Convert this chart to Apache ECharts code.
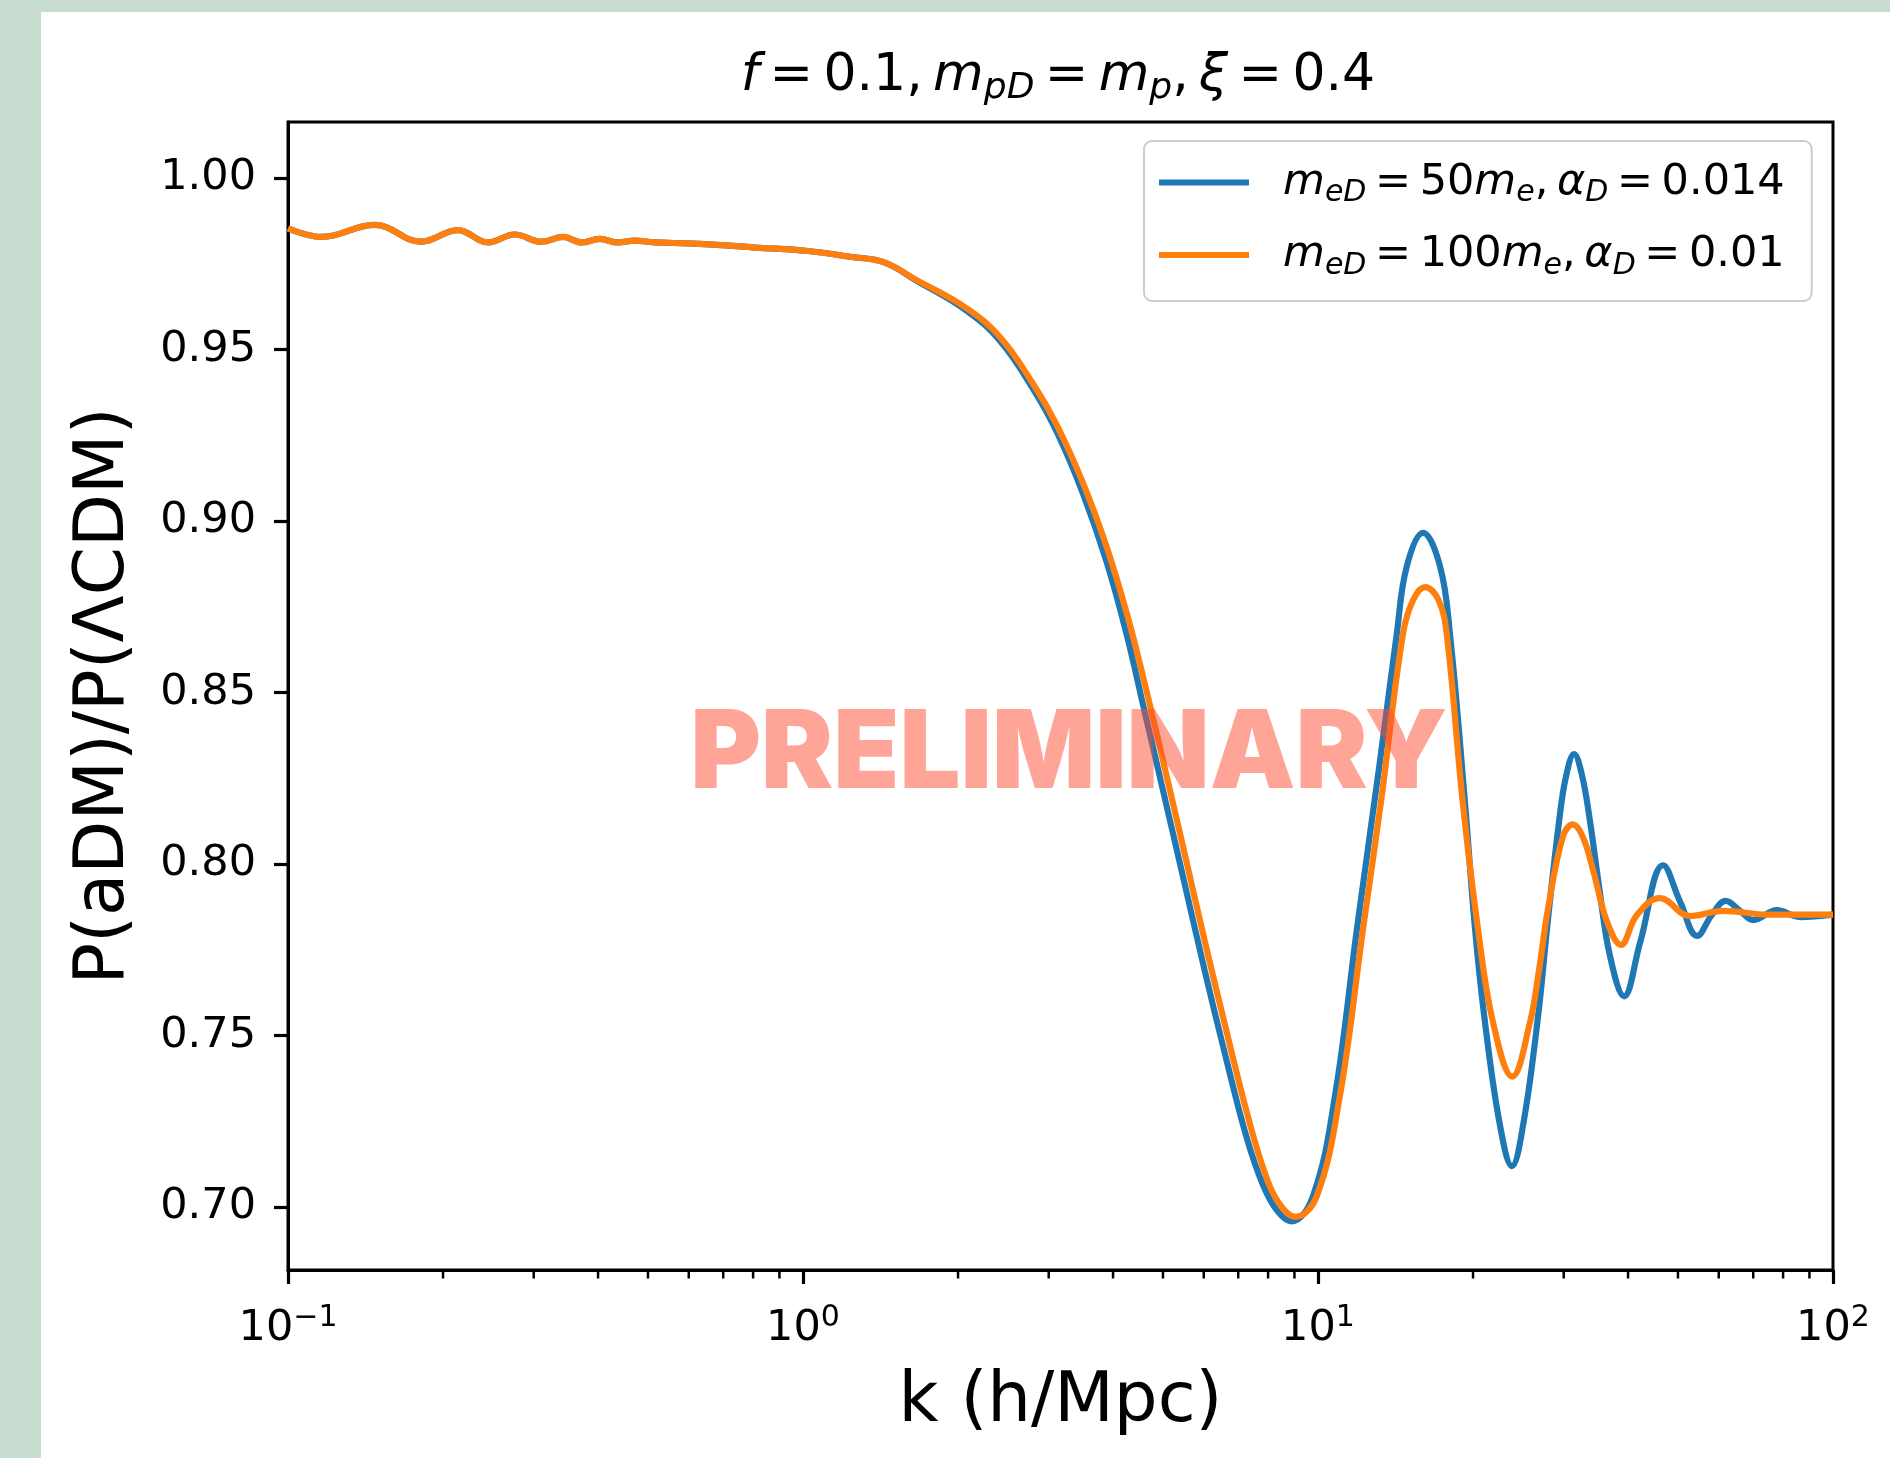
<!DOCTYPE html>
<html>
<head>
<meta charset="utf-8">
<script src="https://cdn.jsdelivr.net/npm/echarts@6/dist/echarts.min.js"></script>
<style>
html,body{margin:0;padding:0;width:1890px;height:1458px;background:#c5dccf;overflow:hidden;}
#paper{position:absolute;left:41px;top:12px;right:0;bottom:0;background:#ffffff;}
#chart{position:absolute;left:0;top:0;width:1890px;height:1458px;}
</style>
</head>
<body>
<div id="paper"></div>
<div id="chart"></div>
<script>
// ---------------- data ----------------
const kBlue = [0.1, 0.1161, 0.1474, 0.1815, 0.2138, 0.2445, 0.2755, 0.3104, 0.342, 0.3712, 0.403, 0.4373, 0.471, 0.515, 0.598, 0.694, 0.806, 1.023, 1.234, 1.43,
  1.663, 2.078, 2.412, 2.797, 3.109, 3.498, 3.889, 4.252, 4.574, 4.98, 5.47, 6.03, 6.63, 7.25, 7.82, 8.36, 8.89, 9.78, 10.79, 11.9, 13.19, 14.22, 14.87, 16.0, 17.26, 18.04,
  19.29, 20.18, 21.1, 22.58, 23.8, 25.03, 26.75, 27.97, 29.38, 30.31, 31.42, 32.56, 33.75, 35.13, 36.9, 39.3, 42.2, 46.8, 50.5, 54.5, 58.1, 61.9, 66.0, 70.0, 77.8, 86.3, 100];
const vBlue = [0.9853, 0.9828, 0.9863, 0.9814, 0.9848, 0.9812, 0.9835, 0.9814, 0.9828, 0.9812, 0.9822, 0.9812, 0.9817, 0.9812, 0.9809, 0.9804, 0.9797, 0.9787, 0.9770, 0.9755,
  0.9700, 0.9613, 0.9525, 0.9385, 0.9260, 0.9079, 0.8879, 0.8668, 0.8464, 0.8226, 0.7962, 0.7687, 0.7433, 0.7208, 0.7064, 0.6986, 0.6958, 0.7032, 0.7324, 0.7810, 0.8298, 0.8670, 0.8867, 0.8965, 0.8867, 0.8670,
  0.8180, 0.7810, 0.7538, 0.7235, 0.7119, 0.7240, 0.7556, 0.7840, 0.8123, 0.8255, 0.8320, 0.8258, 0.8123, 0.7935, 0.7731, 0.7614, 0.7770, 0.7996, 0.7889, 0.7790, 0.7850, 0.7892, 0.7863, 0.7836, 0.7865, 0.7845, 0.7852];

const kOrange = [0.1, 0.1161, 0.1474, 0.1815, 0.2138, 0.2445, 0.2755, 0.3104, 0.342, 0.3712, 0.403, 0.4373, 0.471, 0.515, 0.598, 0.694, 0.806, 1.023, 1.234, 1.43,
  1.663, 2.078, 2.412, 2.797, 3.109, 3.498, 3.889, 4.252, 4.574, 4.98, 5.47, 6.03, 6.63, 7.25, 7.82, 8.36, 9.05, 9.95, 11.03, 12.23, 13.25, 14.62, 15.31, 16.14, 17.13, 17.78,
  19.1, 20.45, 21.87, 23.84, 25.8, 26.86, 27.97, 29.9, 31.24, 32.7, 34.23, 36.4, 38.75, 41.58, 46.13, 52.77, 61.16, 75, 100];
const vOrange = [0.9853, 0.9828, 0.9863, 0.9814, 0.9848, 0.9812, 0.9835, 0.9814, 0.9828, 0.9812, 0.9822, 0.9812, 0.9817, 0.9812, 0.9809, 0.9804, 0.9797, 0.9787, 0.9770, 0.9755,
  0.9702, 0.9620, 0.9536, 0.9400, 0.9280, 0.9110, 0.8923, 0.8731, 0.8546, 0.8313, 0.8050, 0.7774, 0.7517, 0.7284, 0.7115, 0.7015, 0.6971, 0.7032, 0.7324, 0.7810, 0.8180, 0.8670, 0.8770, 0.8807, 0.8770, 0.8670,
  0.8180, 0.7810, 0.7538, 0.7380, 0.7538, 0.7690, 0.7870, 0.8080, 0.8115, 0.8078, 0.7980, 0.7832, 0.7764, 0.7850, 0.7900, 0.7848, 0.7863, 0.7852, 0.7852];

const seriesNames = ['blue: meD=50me, aD=0.014', 'orange: meD=100me, aD=0.01'];
const TS = '\u2009';
const legendLabels = [
  '{sp| }{i|m}{s|eD}{r|' + TS + '=' + TS + '50}{i|m}{s|e}{r|,' + TS + '}{i|α}{s|D}{r|' + TS + '=' + TS + '0.014}',
  '{sp| }{i|m}{s|eD}{r|' + TS + '=' + TS + '100}{i|m}{s|e}{r|,' + TS + '}{i|α}{s|D}{r|' + TS + '=' + TS + '0.01}'
];
const titleText = '{i|f}{r|' + TS + '=' + TS + '0.1,' + TS + '}{i|m}{s|pD}{r|' + TS + '=' + TS + '}{i|m}{s|p}{r|,' + TS + '}{i|ξ}{r|' + TS + '=' + TS + '0.4}';

const Y_MIN = 0.6816, Y_MAX = 1.0163;
const yTicks = [0.70, 0.75, 0.80, 0.85, 0.90, 0.95, 1.00];
const yTickLabels = ['0.70', '0.75', '0.80', '0.85', '0.90', '0.95', '1.00'];
const xMajorTicks = [0.1, 1, 10, 100];
const xTickExponents = ['\u22121', '0', '1', '2'];
const xMinorTicks = [0.2, 0.3, 0.4, 0.5, 0.6, 0.7, 0.8, 0.9, 2, 3, 4, 5, 6, 7, 8, 9, 20, 30, 40, 50, 60, 70, 80, 90];

// ---------------- chart ----------------
const FONT = 'DejaVu Sans';
const chart = echarts.init(document.getElementById('chart'), null, {renderer: 'canvas'});

function pairs(ks, vs) { return ks.map((k, i) => [k, vs[i]]); }

const option = {
  animation: false,
  backgroundColor: 'transparent',
  title: {
    text: titleText,
    left: 1053,
    top: 40,
    textAlign: 'center',
    textStyle: {
      fontWeight: 'normal',
      rich: {
        r: {fontFamily: FONT, fontSize: 52, lineHeight: 62, fontWeight: 'normal', color: '#000'},
        i: {fontFamily: FONT, fontSize: 52, lineHeight: 62, fontWeight: 'normal', fontStyle: 'italic', color: '#000'},
        s: {fontFamily: FONT, fontSize: 36, lineHeight: 36, fontWeight: 'normal', fontStyle: 'italic', verticalAlign: 'bottom', color: '#000'}
      }
    }
  },
  legend: {
    data: seriesNames,
    orient: 'vertical',
    left: 1144,
    top: 141,
    itemWidth: 90,
    itemHeight: 6,
    itemGap: 25,
    icon: 'rect',
    selectedMode: false,
    padding: [20, 27, 20, 15],
    backgroundColor: 'rgba(255,255,255,0.8)',
    borderColor: '#cccccc',
    borderWidth: 2,
    borderRadius: 8,
    formatter: name => legendLabels[seriesNames.indexOf(name)],
    textStyle: {
      color: '#000',
      rich: {
        sp: {width: 29, fontSize: 43, lineHeight: 52},
        r: {fontFamily: FONT, fontSize: 43, lineHeight: 52, color: '#000'},
        i: {fontFamily: FONT, fontSize: 43, lineHeight: 52, fontStyle: 'italic', color: '#000'},
        s: {fontFamily: FONT, fontSize: 30, lineHeight: 30, fontStyle: 'italic', verticalAlign: 'bottom', color: '#000'}
      }
    }
  },
  grid: {
    left: 288, top: 122, width: 1545, height: 1148,
    show: true, borderColor: '#000', borderWidth: 3, backgroundColor: 'transparent'
  },
  xAxis: {
    type: 'log', logBase: 10, min: 0.1, max: 100,
    axisLine: {show: true, lineStyle: {color: '#000', width: 3}},
    axisTick: {show: true, length: 14, lineStyle: {color: '#000', width: 3.2}},
    splitLine: {show: false},
    axisLabel: {
      margin: 33,
      color: '#000',
      formatter: function (v) {
        const i = xMajorTicks.findIndex(t => Math.abs(Math.log10(t) - Math.log10(v)) < 1e-6);
        return '{b|10}{s|' + xTickExponents[i] + '}';
      },
      rich: {
        b: {fontFamily: FONT, fontSize: 43, lineHeight: 51, color: '#000'},
        s: {fontFamily: FONT, fontSize: 30, lineHeight: 30, verticalAlign: 'top', color: '#000'}
      }
    },
    name: 'k (h/Mpc)',
    nameLocation: 'middle',
    nameGap: 99,
    nameTextStyle: {fontFamily: FONT, fontSize: 69, color: '#000'}
  },
  yAxis: {
    type: 'value', min: Y_MIN, max: Y_MAX,
    axisLine: {show: true, lineStyle: {color: '#000', width: 3}},
    axisTick: {show: true, length: 14, customValues: yTicks, lineStyle: {color: '#000', width: 3.2}},
    splitLine: {show: false},
    axisLabel: {
      customValues: yTicks,
      margin: 32,
      fontFamily: FONT, fontSize: 43, color: '#000',
      formatter: function (v) {
        const i = yTicks.findIndex(t => Math.abs(t - v) < 1e-9);
        return i >= 0 ? yTickLabels[i] : '';
      }
    },
    name: 'P(aDM)/P(ΛCDM)',
    nameLocation: 'middle',
    nameGap: 148,
    nameTextStyle: {fontFamily: FONT, fontSize: 69, color: '#000'}
  },
  series: [
    {
      name: seriesNames[0], type: 'line', data: pairs(kBlue, vBlue),
      symbol: 'none', showSymbol: false, smooth: 0.4, z: 2,
      lineStyle: {color: '#1f77b4', width: 6.2}, itemStyle: {color: '#1f77b4'}
    },
    {
      name: seriesNames[1], type: 'line', data: pairs(kOrange, vOrange),
      symbol: 'none', showSymbol: false, smooth: 0.4, z: 3,
      lineStyle: {color: '#ff7f0e', width: 6.2}, itemStyle: {color: '#ff7f0e'}
    },
    {
      name: 'minorTicks', type: 'custom', silent: true, clip: false, z: 6,
      data: xMinorTicks.map(k => [k, Y_MIN]),
      encode: {x: 0, y: 1},
      renderItem: function (params, api) {
        const p = api.coord([api.value(0), api.value(1)]);
        return {type: 'line', shape: {x1: p[0], y1: p[1], x2: p[0], y2: p[1] + 8.5},
                style: {stroke: '#000', lineWidth: 2.5}};
      }
    }
  ],
  graphic: [
    {
      type: 'text', x: 1069, y: 756, z: 100, silent: true,
      style: {
        text: 'PRELIMINARY', fill: 'rgba(253,75,49,0.5)',
        fontFamily: 'Inter', fontWeight: 900, fontSize: 108,
        align: 'center', verticalAlign: 'middle',
        textAlign: 'center', textVerticalAlign: 'middle'
      }
    }
  ]
};
chart.setOption(option);
</script>
</body>
</html>
